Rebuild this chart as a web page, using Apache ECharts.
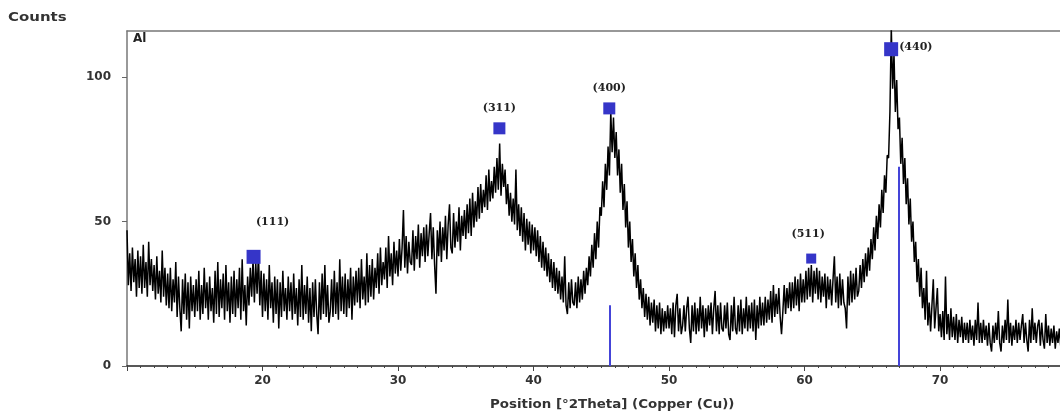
<!DOCTYPE html>
<html>
<head>
<meta charset="utf-8">
<script src="https://cdn.jsdelivr.net/npm/echarts@6/dist/echarts.min.js"></script>
<style>
  html, body { margin: 0; padding: 0; background: #fff; }
  #chart { width: 1060px; height: 417px; }
</style>
</head>
<body>
<div id="chart"></div>
<script>
// scan: 2theta from 10.0, step 0.1 deg
var twoThetaStart = 10.0;
var twoThetaStep = 0.1;

var counts = [
    47, 28, 39, 26, 41, 29, 37, 24, 40, 27,   // 10
    38, 25, 42, 27, 36, 24, 43, 28, 37, 26,   // 11
    35, 23, 38, 25, 33, 22, 40, 24, 34, 21,   // 12
    32, 20, 34, 19, 30, 22, 36, 17, 31, 20,   // 13
    12, 30, 18, 32, 16, 29, 13, 31, 19, 28,   // 14
    17, 30, 19, 33, 16, 28, 18, 34, 20, 29,   // 15
    16, 31, 19, 27, 15, 33, 18, 36, 17, 30,   // 16
    20, 32, 16, 35, 19, 29, 15, 31, 18, 33,   // 17
    17, 30, 20, 34, 16, 37, 19, 28, 14, 31,   // 18
    21, 34, 24, 37, 22, 36, 25, 39, 21, 33,   // 19
    17, 32, 19, 30, 16, 35, 20, 29, 15, 31,   // 20
    18, 30, 13, 29, 17, 33, 19, 27, 16, 31,   // 21
    19, 29, 16, 32, 18, 27, 14, 30, 17, 35,   // 22
    16, 28, 18, 31, 15, 27, 12, 29, 17, 30,   // 23
    18, 11, 29, 16, 32, 18, 35, 17, 28, 15,   // 24
    19, 30, 17, 33, 18, 29, 16, 37, 19, 31,   // 25
    18, 32, 17, 30, 20, 34, 16, 31, 21, 33,   // 26
    22, 34, 20, 37, 23, 31, 21, 39, 22, 35,   // 27
    24, 37, 23, 34, 27, 39, 25, 41, 28, 36,   // 28
    30, 41, 27, 45, 31, 39, 28, 43, 32, 40,   // 29
    31, 44, 33, 41, 54, 34, 45, 32, 43, 36,   // 30
    35, 47, 33, 45, 37, 49, 34, 46, 38, 48,   // 31
    36, 49, 38, 46, 53, 37, 48, 35, 25, 47,   // 32
    38, 50, 36, 48, 40, 52, 37, 49, 56, 41,   // 33
    39, 53, 41, 50, 43, 55, 40, 52, 45, 54,   // 34
    44, 56, 46, 58, 45, 60, 48, 57, 50, 62,   // 35
    51, 63, 53, 61, 55, 66, 54, 68, 57, 64,   // 36
    58, 69, 60, 72, 61, 77, 59, 70, 62, 68,   // 37
    56, 63, 52, 60, 50, 58, 49, 68, 47, 56,   // 38
    45, 55, 43, 53, 40, 51, 42, 50, 39, 49,   // 39
    40, 48, 38, 47, 36, 45, 34, 43, 33, 41,   // 40
    31, 39, 29, 37, 27, 36, 26, 34, 25, 33,   // 41
    23, 31, 22, 38, 21, 18, 29, 20, 30, 22,   // 42
    21, 29, 20, 31, 22, 30, 23, 33, 25, 34,   // 43
    28, 38, 31, 42, 34, 46, 37, 50, 41, 55,   // 44
    52, 64, 55, 70, 61, 76, 66, 88, 74, 86,   // 45
    72, 81, 66, 75, 60, 70, 54, 63, 48, 57,   // 46
    41, 50, 36, 44, 31, 39, 27, 35, 23, 30,   // 47
    20, 27, 17, 25, 16, 24, 14, 22, 15, 23,   // 48
    12, 21, 13, 22, 11, 20, 12, 19, 13, 21,   // 49
    13, 20, 11, 22, 10, 21, 25, 12, 20, 11,   // 50
    14, 21, 12, 20, 24, 13, 8, 21, 12, 22,    // 51
    11, 20, 12, 24, 13, 21, 10, 20, 12, 21,   // 52
    14, 22, 11, 20, 26, 12, 21, 11, 22, 13,   // 53
    12, 21, 13, 22, 11, 9, 21, 12, 24, 13,    // 54
    11, 21, 12, 23, 11, 20, 13, 24, 12, 21,   // 55
    13, 22, 12, 23, 9, 21, 13, 24, 14, 22,    // 56
    14, 24, 15, 23, 16, 26, 15, 28, 17, 25,   // 57
    18, 27, 17, 11, 19, 28, 18, 27, 20, 29,   // 58
    19, 29, 20, 31, 21, 30, 19, 32, 22, 30,   // 59
    22, 33, 23, 34, 24, 35, 22, 33, 25, 34,   // 60
    23, 33, 22, 31, 24, 32, 20, 31, 23, 30,   // 61
    21, 30, 38, 22, 31, 20, 32, 21, 30, 22,   // 62
    20, 13, 31, 21, 33, 22, 32, 23, 34, 24,   // 63
    26, 35, 27, 37, 29, 39, 31, 41, 33, 44,   // 64
    37, 48, 40, 52, 44, 56, 48, 61, 53, 66,   // 65
    60, 73, 72, 88, 117, 96, 108, 88, 99, 82, // 66
    86, 70, 79, 63, 72, 56, 65, 49, 58, 43,   // 67
    50, 36, 43, 29, 37, 24, 34, 20, 27, 16,   // 68
    33, 14, 22, 12, 21, 30, 13, 20, 27, 12,   // 69
    18, 10, 19, 9, 31, 11, 18, 9, 20, 10,     // 70
    17, 9, 18, 8, 16, 10, 17, 8, 15, 9,       // 71
    15, 8, 16, 9, 14, 7, 16, 9, 22, 8,        // 72
    15, 8, 16, 9, 14, 7, 15, 8, 5, 14,        // 73
    8, 15, 9, 19, 8, 5, 14, 8, 16, 9,         // 74
    23, 8, 15, 7, 14, 9, 16, 8, 15, 9,        // 75
    14, 18, 8, 15, 9, 5, 16, 8, 20, 9,        // 76
    15, 8, 14, 16, 7, 15, 9, 6, 18, 8,        // 77
    14, 7, 13, 8, 14, 6, 12, 8, 13, 7,        // 78
    10                                        // 79
];

// matched peaks (Al)
var peakPos = [19.34, 37.48, 45.59, 60.49, 66.39];
var peakCounts = [37.8, 82.3, 89.2, 37.2, 109.7];
var peakHkl = ['(111)', '(311)', '(400)', '(511)', '(440)'];

// reference pattern sticks
var refPos = [45.59, 66.98];
var refHeight = [21, 69];

var chart = echarts.init(document.getElementById('chart'), null, { renderer: 'canvas' });

var scan = [];
for (var i = 0; i < counts.length; i++) {
    scan.push([+(twoThetaStart + i * twoThetaStep).toFixed(2), counts[i]]);
}

// marker look per hkl
var peakStyle = {
    '(111)': { size: 14, position: 'top', offset: [19, -17] },
    '(311)': { size: 12, position: 'top', offset: [0, -4] },
    '(400)': { size: 12, position: 'top', offset: [0, -4] },
    '(511)': { size: 10, position: 'top', offset: [-3, -9] },
    '(440)': { size: 14, position: 'right', offset: [0, -2] }
};

var peakData = peakPos.map(function (x, k) {
    var st = peakStyle[peakHkl[k]];
    return {
        value: [x, peakCounts[k]],
        symbolSize: st.size,
        label: {
            show: true,
            formatter: peakHkl[k],
            position: st.position,
            offset: st.offset,
            distance: st.position === 'right' ? 1 : 5
        }
    };
});

var refLines = refPos.map(function (x, k) {
    return [{ coord: [x, 0] }, { coord: [x, refHeight[k]] }];
});

var tickFont = {
    color: '#333',
    fontFamily: 'DejaVu Sans',
    fontWeight: 'bold',
    fontSize: 12
};

var option = {
    animation: false,
    grid: {
        left: 127,
        top: 31,
        bottom: 51,
        right: 0
    },
    xAxis: [{
        type: 'value',
        min: 10,
        max: 78.85,
        interval: 10,
        minorTick: { show: true, splitNumber: 10, length: 2, lineStyle: { color: '#444' } },
        axisLine: { lineStyle: { color: '#222', width: 1.5 } },
        axisTick: { length: 5, lineStyle: { color: '#444' } },
        axisLabel: Object.assign({ showMinLabel: false, showMaxLabel: false, margin: 9 }, tickFont),
        splitLine: { show: false }
    }, {
        // top frame line
        type: 'value',
        position: 'top',
        min: 10,
        max: 78.85,
        axisLine: { show: true, onZero: false, lineStyle: { color: '#777', width: 1.5 } },
        axisTick: { show: false },
        axisLabel: { show: false },
        splitLine: { show: false }
    }],
    yAxis: {
        type: 'value',
        min: 0,
        max: 116,
        interval: 50,
        axisLine: { show: true, lineStyle: { color: '#777', width: 1.5 } },
        axisTick: { show: true, length: 5, lineStyle: { color: '#666' } },
        axisLabel: Object.assign({ showMaxLabel: false, margin: 16 }, tickFont),
        splitLine: { show: false }
    },
    graphic: [
        { type: 'text', left: 8, top: 11, scaleX: 1.15, style: { text: 'Counts', font: 'bold 13px "DejaVu Sans"', fill: '#333' } },
        { type: 'text', left: 133, top: 33, style: { text: 'Al', font: 'bold 12px "DejaVu Sans"', fill: '#222' } },
        { type: 'text', left: 490, top: 398, scaleX: 1.03, style: { text: 'Position [°2Theta] (Copper (Cu))', font: 'bold 13px "DejaVu Sans"', fill: '#333' } }
    ],
    series: [
        {
            type: 'line',
            data: [],
            silent: true,
            z: 1,
            markLine: {
                silent: true,
                symbol: 'none',
                label: { show: false },
                lineStyle: { color: '#4444d8', width: 2, type: 'solid', opacity: 1 },
                data: refLines
            }
        },
        {
            name: 'Al',
            type: 'line',
            data: scan,
            showSymbol: false,
            sampling: 'none',
            clip: true,
            z: 2,
            lineStyle: { color: '#000', width: 1.5 }
        },
        {
            type: 'scatter',
            symbol: 'rect',
            data: peakData,
            z: 3,
            itemStyle: { color: '#3535c8', opacity: 1 },
            label: {
                color: '#222',
                fontFamily: 'DejaVu Serif',
                fontWeight: 'bold',
                fontSize: 11
            }
        }
    ]
};

chart.setOption(option);
</script>
</body>
</html>
